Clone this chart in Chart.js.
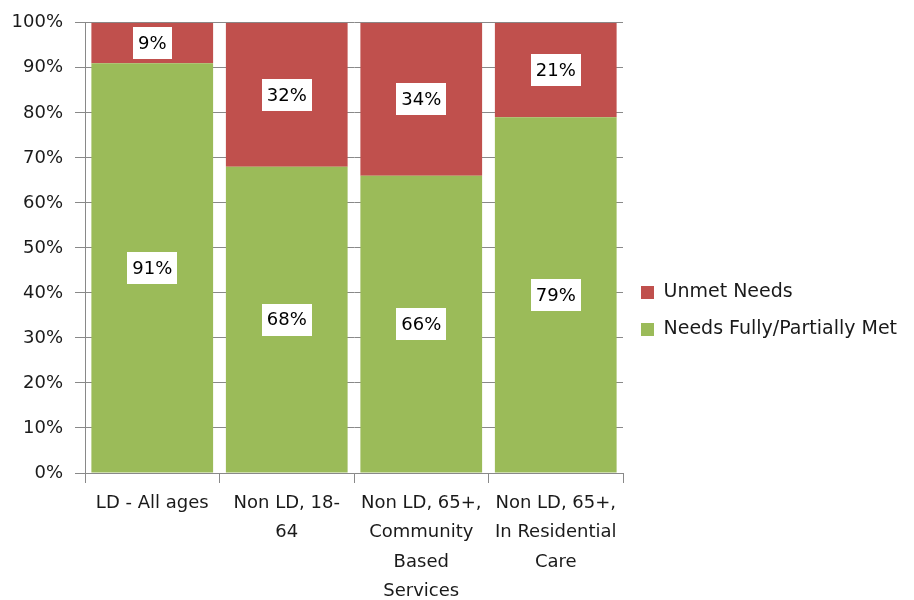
<!DOCTYPE html>
<html>
<head>
<meta charset="utf-8">
<script src="https://cdn.jsdelivr.net/npm/chart.js@4"></script>
<style>
  html, body { margin: 0; padding: 0; background: #fff; }
  #wrap { width: 914px; height: 600px; }
</style>
</head>
<body>
<div id="wrap"><canvas id="c" width="914" height="600"></canvas></div>
<script>
// Care groups along the x axis (multi-line labels)
const categories = [
  ['LD - All ages'],
  ['Non LD, 18-', '64'],
  ['Non LD, 65+,', 'Community', 'Based', 'Services'],
  ['Non LD, 65+,', 'In Residential', 'Care']
];
// Share of people, in percent
const metValues = [91, 68, 66, 79];
const unmetValues = [9, 32, 34, 21];
const yTickStep = 10;

const GREEN = '#9BBB59';
const RED = '#C0504D';
const GRID = '#898989';
const TEXT = '#1a1a1a';
const FONT = "'DejaVu Sans', 'Noto Sans', sans-serif";

Chart.defaults.font.family = FONT;
Chart.defaults.font.size = 18;
Chart.defaults.color = TEXT;

// White boxed percentage labels centred in each bar segment
const segmentLabels = {
  id: 'segmentLabels',
  afterDatasetsDraw(chart) {
    const ctx = chart.ctx;
    ctx.save();
    ctx.font = '18px ' + FONT;
    ctx.textAlign = 'center';
    ctx.textBaseline = 'middle';
    chart.data.datasets.forEach((ds, di) => {
      const meta = chart.getDatasetMeta(di);
      meta.data.forEach((bar, i) => {
        const p = bar.getProps(['x', 'y', 'base'], true);
        const cy = (p.y + p.base) / 2;
        const txt = ds.data[i] + '%';
        const w = ctx.measureText(txt).width + 10;
        const h = 32;
        ctx.fillStyle = '#ffffff';
        ctx.fillRect(Math.round(p.x - w / 2), Math.round(cy - h / 2), Math.round(w), h);
        ctx.fillStyle = '#000000';
        ctx.fillText(txt, p.x, cy + 1);
      });
    });
    ctx.restore();
  }
};

const chart = new Chart(document.getElementById('c'), {
  type: 'bar',
  data: {
    labels: categories,
    datasets: [
      { label: 'Needs Fully/Partially Met', data: metValues, backgroundColor: GREEN,
        barPercentage: 0.905, categoryPercentage: 1.0 },
      { label: 'Unmet Needs', data: unmetValues, backgroundColor: RED,
        barPercentage: 0.905, categoryPercentage: 1.0 }
    ]
  },
  options: {
    responsive: false,
    animation: false,
    layout: { padding: { top: 22, right: 0, bottom: 0, left: 0 } },
    plugins: {
      tooltip: { enabled: false },
      legend: {
        position: 'right',
        align: 'center',
        reverse: true,
        labels: {
          boxWidth: 13,
          boxHeight: 13,
          padding: 18,
          color: TEXT,
          font: { size: 19 }
        }
      }
    },
    scales: {
      x: {
        stacked: true,
        grid: { display: true, drawOnChartArea: false, drawTicks: true, tickLength: 10, color: GRID, offset: true },
        border: { color: GRID },
        ticks: { color: TEXT, padding: 6, maxRotation: 0, autoSkip: false, font: { size: 18, lineHeight: 1.62 } },
        afterFit(s) { s.height = 127; }
      },
      y: {
        stacked: true,
        min: 0,
        max: 100,
        grid: { color: GRID, tickLength: 10, drawTicks: true },
        border: { color: GRID },
        ticks: { stepSize: yTickStep, color: TEXT, padding: 12, callback: v => v + '%' },
        afterFit(s) { s.width = 85; }
      }
    }
  },
  plugins: [segmentLabels]
});

// Give the right-hand legend a fixed column so the plot ends at x = 623
const legendFit = chart.legend.fit.bind(chart.legend);
chart.legend.fit = function () {
  legendFit();
  this.width = 914 - 623;
};
chart.update();
</script>
</body>
</html>
